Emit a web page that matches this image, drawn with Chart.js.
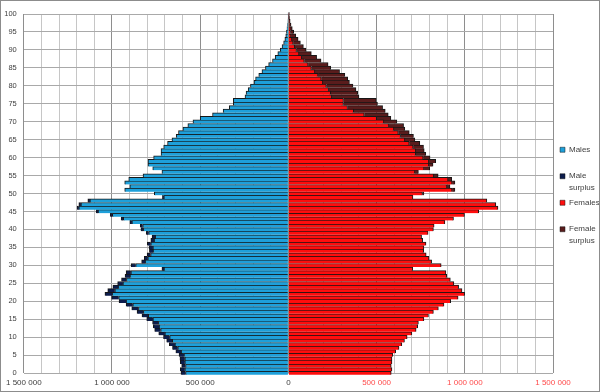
<!DOCTYPE html>
<html>
<head>
<meta charset="utf-8">
<script src="https://cdn.jsdelivr.net/npm/chart.js@4.4.1/dist/chart.umd.min.js"></script>
<style>
  html, body { margin: 0; padding: 0; background: #fff; }
  #wrap { width: 598px; height: 390px; border: 1px solid #8c8c8c; }
</style>
</head>
<body>
<div id="wrap"><canvas id="pyramid"></canvas></div>
<script>
const ages = [
  0, 1, 2, 3, 4, 5, 6, 7, 8, 9,
  10, 11, 12, 13, 14, 15, 16, 17, 18, 19,
  20, 21, 22, 23, 24, 25, 26, 27, 28, 29,
  30, 31, 32, 33, 34, 35, 36, 37, 38, 39,
  40, 41, 42, 43, 44, 45, 46, 47, 48, 49,
  50, 51, 52, 53, 54, 55, 56, 57, 58, 59,
  60, 61, 62, 63, 64, 65, 66, 67, 68, 69,
  70, 71, 72, 73, 74, 75, 76, 77, 78, 79,
  80, 81, 82, 83, 84, 85, 86, 87, 88, 89,
  90, 91, 92, 93, 94, 95, 96, 97, 98, 99, 100
];

const males = [
  609000, 613000, 605000, 613000, 615000, 620000, 638000, 657000, 675000, 690000,
  708000, 735000, 758000, 766000, 770000, 803000, 830000, 858000, 888000, 920000,
  960000, 1002000, 1040000, 1024000, 995000, 968000, 946000, 926000, 920000, 717000,
  892000, 832000, 817000, 801000, 788000, 790000, 800000, 780000, 773000, 806000,
  836000, 840000, 898000, 948000, 1010000, 1090000, 1198000, 1188000, 1137000, 714000,
  760000, 928000, 899000, 928000, 905000, 824000, 717000, 769000, 796000, 796000,
  764000, 722000, 722000, 707000, 685000, 660000, 636000, 623000, 598000, 570000,
  541000, 500000, 430000, 370000, 335000, 312000, 312000, 246000, 240000, 228000,
  215000, 195000, 186000, 168000, 150000, 130000, 112000, 90000, 75000, 60000,
  46000, 36000, 27000, 20000, 15000, 11000, 8000, 5000, 3000, 2000, 2000
];

const females = [
  583000, 587000, 583000, 587000, 587000, 592000, 608000, 627000, 643000, 658000,
  673000, 700000, 724000, 733000, 737000, 768000, 794000, 822000, 850000, 882000,
  920000, 962000, 999000, 984000, 965000, 938000, 918000, 898000, 893000, 705000,
  866000, 812000, 797000, 781000, 767000, 768000, 780000, 761000, 755000, 792000,
  822000, 826000, 887000, 936000, 998000, 1079000, 1188000, 1176000, 1125000, 706000,
  768000, 944000, 916000, 944000, 926000, 849000, 737000, 801000, 820000, 835000,
  803000, 779000, 770000, 766000, 745000, 717000, 709000, 685000, 660000, 653000,
  615000, 581000, 566000, 549000, 534000, 505000, 498000, 400000, 393000, 383000,
  366000, 346000, 336000, 320000, 290000, 240000, 225000, 185000, 160000, 130000,
  100000, 85000, 68000, 55000, 42000, 30000, 22000, 15000, 10000, 6000, 5000
];

const seriesNames = ['Males', 'Male surplus', 'Females', 'Female surplus'];
const legendLines = [['Males', ''], ['Male', 'surplus'], ['Females', ''], ['Female', 'surplus']];
const seriesColors = ['#1ea0da', '#0c1c4c', '#ff0d0d', '#5a1c1c'];

// both sides share the common part, the surplus goes on top of it
const maleMain = ages.map((a, i) => ({ y: a, x: -Math.min(males[i], females[i]) }));
const maleExtra = ages.map((a, i) => ({ y: a, x: -Math.max(males[i] - females[i], 0) }));
const femaleMain = ages.map((a, i) => ({ y: a, x: Math.min(males[i], females[i]) }));
const femaleExtra = ages.map((a, i) => ({ y: a, x: Math.max(females[i] - males[i], 0) }));

function fmt(v) {
    return Math.abs(v).toString().replace(/\B(?=(\d{3})+(?!\d))/g, ' ');
}

function makeSet(i, data) {
    return {
        label: seriesNames[i],
        data: data,
        backgroundColor: seriesColors[i],
        borderColor: '#161616',
        borderWidth: { top: 1, bottom: 0, left: 1, right: 1 },
        borderSkipped: 'start',
        barPercentage: 1,
        categoryPercentage: 1,
        clip: false
    };
}

// fixed legend column, items nudged a little to the right and down
const legendPlace = {
    id: 'legendPlace',
    beforeInit(chart) {
        const legend = chart.legend;
        const fit = legend.fit;
        legend.fit = function () {
            fit.call(this);
            this.width = 46;
        };
    },
    afterLayout(chart) {
        const legend = chart.legend;
        legend.left += 4.5;
        legend.top += 4;
        legend.bottom += 4;
    }
};

new Chart(document.querySelector('#pyramid'), {
    type: 'bar',
    data: {
        datasets: [
            makeSet(0, maleMain),
            makeSet(1, maleExtra),
            makeSet(2, femaleMain),
            makeSet(3, femaleExtra)
        ]
    },
    options: {
        indexAxis: 'y',
        responsive: true,
        maintainAspectRatio: false,
        animation: false,
        layout: { padding: { top: 13, bottom: 0, left: 0, right: 0 } },
        scales: {
            x: {
                type: 'linear',
                stacked: true,
                min: -1500000,
                max: 1500000,
                border: { display: false },
                grid: {
                    drawTicks: false,
                    color: c => c.tick.value % 500000 === 0 ? '#8e8e8e' : '#c6c6c6'
                },
                ticks: {
                    stepSize: 100000,
                    autoSkip: false,
                    maxRotation: 0,
                    padding: 5,
                    font: { family: "'Liberation Sans Narrow', 'Liberation Sans'", size: 8 },
                    color: c => c.tick.value > 0 ? '#ff4a4a' : '#404040',
                    callback: v => v % 500000 === 0 ? fmt(v) : ''
                },
                afterFit: scale => { scale.height = 18; }
            },
            y: {
                type: 'linear',
                stacked: true,
                min: 0,
                max: 100,
                offset: false,
                border: { display: false },
                grid: { offset: false, drawTicks: false, color: '#a9a9a9' },
                ticks: {
                    stepSize: 5,
                    padding: 7,
                    font: { family: 'Liberation Sans', size: 7.5 },
                    color: '#404040'
                },
                afterFit: scale => { scale.width = 22; }
            }
        },
        plugins: {
            tooltip: { enabled: false },
            legend: {
                position: 'right',
                fullSize: false,
                labels: {
                    boxWidth: 5,
                    boxHeight: 5,
                    padding: 2.5,
                    color: '#404040',
                    font: { family: 'Liberation Sans', size: 8, lineHeight: 1.5 },
                    generateLabels: chart => {
                        const items = Chart.defaults.plugins.legend.labels.generateLabels(chart);
                        items.forEach((item, i) => {
                            item.text = legendLines[i];
                            item.lineWidth = 0.5;
                        });
                        return items;
                    }
                }
            }
        }
    },
    plugins: [legendPlace]
});
</script>
</body>
</html>
